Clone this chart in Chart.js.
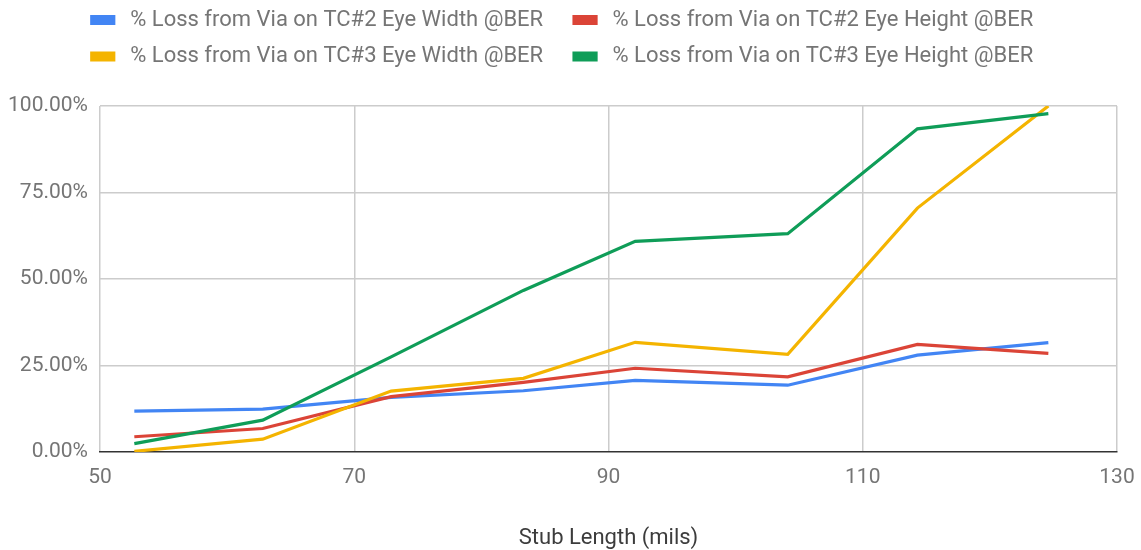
<!DOCTYPE html>
<html>
<head>
<meta charset="utf-8">
<title>% Loss from Via vs Stub Length</title>
<script src="https://cdn.jsdelivr.net/npm/chart.js@4.4.0/dist/chart.umd.min.js"></script>
<style>
    html, body {
        margin: 0;
        padding: 0;
        background: #ffffff;
    }
    .chart-wrap {
        position: relative;
        width: 1141px;
        height: 550px;
    }
</style>
</head>
<body>
<div class="chart-wrap">
    <canvas id="lossChart"></canvas>
</div>
<script>
// stub length (mils) for each measured point
const stubLength = [52.7, 62.8, 72.9, 83.3, 92.1, 104.1, 114.3, 124.6];

// % loss series
const tc2EyeWidth  = [11.8, 12.4, 15.8, 17.7, 20.7, 19.3, 28.0, 31.6];
const tc2EyeHeight = [4.4, 6.8, 16.0, 20.1, 24.2, 21.7, 31.1, 28.5];
const tc3EyeWidth  = [0.2, 3.7, 17.6, 21.3, 31.7, 28.2, 70.5, 100.0];
const tc3EyeHeight = [2.4, 9.2, 27.5, 46.7, 60.9, 63.1, 93.4, 97.8];

const seriesLabels = [
    '% Loss from Via on TC#2 Eye Width @BER',
    '% Loss from Via on TC#2 Eye Height @BER',
    '% Loss from Via on TC#3 Eye Width @BER',
    '% Loss from Via on TC#3 Eye Height @BER'
];
const seriesValues = [tc2EyeWidth, tc2EyeHeight, tc3EyeWidth, tc3EyeHeight];
const seriesColors = ['#4285f4', '#db4437', '#f4b400', '#0f9d58'];

const xTicks = [50, 70, 90, 110, 130];
const yTicks = [0, 25, 50, 75, 100];

const textColor = '#757575';
const fontFamily = 'Roboto, "Noto Sans", sans-serif';

const datasets = seriesValues.map((vals, i) => ({
    label: seriesLabels[i],
    data: vals.map((v, j) => ({ x: stubLength[j], y: v })),
    borderColor: seriesColors[i],
    backgroundColor: seriesColors[i],
    borderWidth: 3.2,
    pointRadius: 0,
    tension: 0,
    fill: false,
    order: seriesValues.length - i
}));

const ctx = document.getElementById('lossChart').getContext('2d');
new Chart(ctx, {
    type: 'line',
    data: { datasets },
    options: {
        responsive: true,
        maintainAspectRatio: false,
        animation: false,
        layout: {
            padding: { top: -5.5, right: 24, bottom: 0, left: 8 }
        },
        plugins: {
            legend: {
                position: 'top',
                labels: {
                    boxWidth: 22,
                    boxHeight: 7,
                    padding: 14.5,
                    color: textColor,
                    font: { family: fontFamily, size: 22 },
                    sort: (a, b) => a.datasetIndex - b.datasetIndex,
                    // a little extra room around the text, like the original legend
                    generateLabels: (chart) => {
                        const items = Chart.defaults.plugins.legend.labels.generateLabels(chart);
                        items.forEach(item => {
                            item.text = ' ' + item.text + (item.datasetIndex % 2 === 0 ? '   ' : '');
                        });
                        return items;
                    }
                }
            },
            // empty spacer between legend and plot
            subtitle: {
                display: true,
                text: '',
                weight: 500,
                font: { size: 10 },
                padding: { top: 0, bottom: 16.5 }
            },
            tooltip: { enabled: false }
        },
        scales: {
            x: {
                type: 'linear',
                min: xTicks[0],
                max: xTicks[xTicks.length - 1],
                afterBuildTicks: (scale) => {
                    scale.ticks = xTicks.map(v => ({ value: v }));
                },
                afterFit: (scale) => {
                    scale.height = 98;
                    scale.paddingLeft = 0;
                    scale.paddingRight = 0;
                },
                grid: { color: '#cccccc', lineWidth: 1.5, drawTicks: false },
                border: { color: '#333333', width: 1.5 },
                ticks: {
                    color: textColor,
                    padding: 13,
                    font: { family: fontFamily, size: 21 }
                },
                title: {
                    display: true,
                    text: 'Stub Length (mils)',
                    color: '#3c3c3c',
                    font: { family: fontFamily, size: 22 },
                    padding: { top: 0, bottom: -2 }
                }
            },
            y: {
                min: yTicks[0],
                max: yTicks[yTicks.length - 1],
                afterBuildTicks: (scale) => {
                    scale.ticks = yTicks.map(v => ({ value: v }));
                },
                afterFit: (scale) => { scale.width = 92; },
                grid: {
                    color: (c) => c.tick && c.tick.value === 0 ? 'rgba(0,0,0,0)' : '#cccccc',
                    lineWidth: 1.5,
                    drawTicks: false
                },
                border: { display: false },
                ticks: {
                    color: textColor,
                    padding: 12,
                    font: { family: fontFamily, size: 21 },
                    callback: (v) => v.toFixed(2) + '%'
                }
            }
        }
    }
});
</script>
</body>
</html>
